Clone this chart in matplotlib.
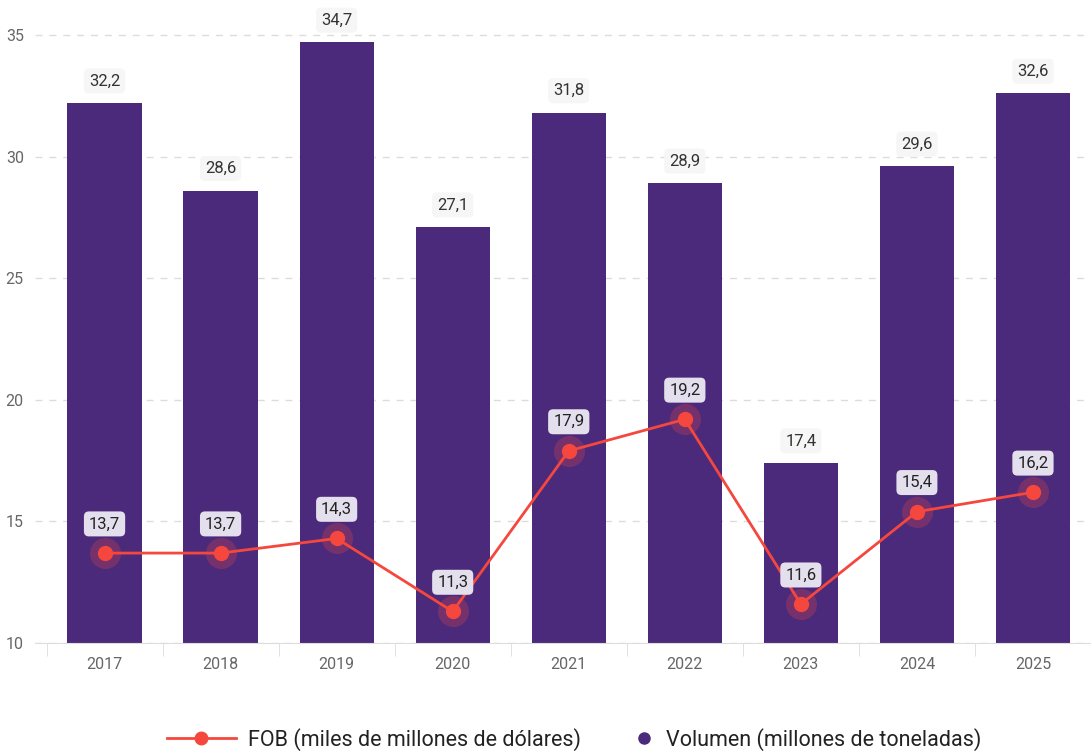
import matplotlib.pyplot as plt
from matplotlib.lines import Line2D

years = ['2017', '2018', '2019', '2020', '2021', '2022', '2023', '2024', '2025']
volumen = [32.2, 28.6, 34.7, 27.1, 31.8, 28.9, 17.4, 29.6, 32.6]
fob = [13.7, 13.7, 14.3, 11.3, 17.9, 19.2, 11.6, 15.4, 16.2]

purple = '#4b2a7b'
red = '#f5473d'

plt.rcParams['font.family'] = ['Roboto', 'DejaVu Sans']

fig = plt.figure(figsize=(10.91, 7.53), dpi=100)
ax = fig.add_axes([0.032, 0.146, 0.968, 0.854])

x = list(range(len(years)))
ax.bar(x, [v - 10 for v in volumen], bottom=10, width=0.64, color=purple, zorder=2)

for xi, v in zip(x, volumen):
    ax.annotate(f'{v:.1f}'.replace('.', ','), (xi, v), xytext=(0, 16),
                textcoords='offset points', ha='center', va='center',
                fontsize=12, color='#333333', zorder=5,
                bbox=dict(boxstyle='round,pad=0.3', fc='#f6f6f6', ec='none'))

# halo + linea
ax.scatter(x, fob, s=500, color=red, alpha=0.25, zorder=3, linewidths=0)
ax.plot(x, fob, color=red, lw=2, marker='o', ms=10, zorder=4)

for xi, v in zip(x, fob):
    ax.annotate(f'{v:.1f}'.replace('.', ','), (xi, v), xytext=(0, 21),
                textcoords='offset points', ha='center', va='center',
                fontsize=12, color='#222222', zorder=6,
                bbox=dict(boxstyle='round,pad=0.3', fc='#e3dfec', ec='none'))

ax.set_xlim(-0.6, 8.43)
ax.set_ylim(10, 36.44)
ax.set_yticks([10, 15, 20, 25, 30, 35])
ax.set_xticks(x)
ax.set_xticklabels(years)
ax.set_xticks([i + 0.5 for i in range(-1, 9)], minor=True)
ax.tick_params(axis='y', length=0, pad=8, labelsize=11.5, labelcolor='#666666')
ax.tick_params(axis='x', which='major', length=0, pad=10, labelsize=11.5, labelcolor='#666666')
ax.tick_params(axis='x', which='minor', length=9, color='#dddddd', direction='out')
ax.grid(axis='y', color='#dcdcdc', linestyle=(0, (5, 5)), lw=1, zorder=0)
for s in ['top', 'right', 'left']:
    ax.spines[s].set_visible(False)
ax.spines['bottom'].set_color('#dddddd')

h1 = Line2D([0], [0], color=red, lw=2, marker='o', ms=9)
h2 = Line2D([0], [0], color=purple, lw=0, marker='o', ms=8)
fig.legend([h1], ['FOB (miles de millones de dólares)'], loc='center left',
           bbox_to_anchor=(0.135, 0.018), frameon=False, fontsize=15.5,
           handlelength=3.2, handletextpad=0.6, labelcolor='#222222')
fig.legend([h2], ['Volumen (millones de toneladas)'], loc='center left',
           bbox_to_anchor=(0.563, 0.018), frameon=False, fontsize=15.5,
           handlelength=1, handletextpad=0.5, labelcolor='#222222')

fig.savefig('out.png', dpi=100)
